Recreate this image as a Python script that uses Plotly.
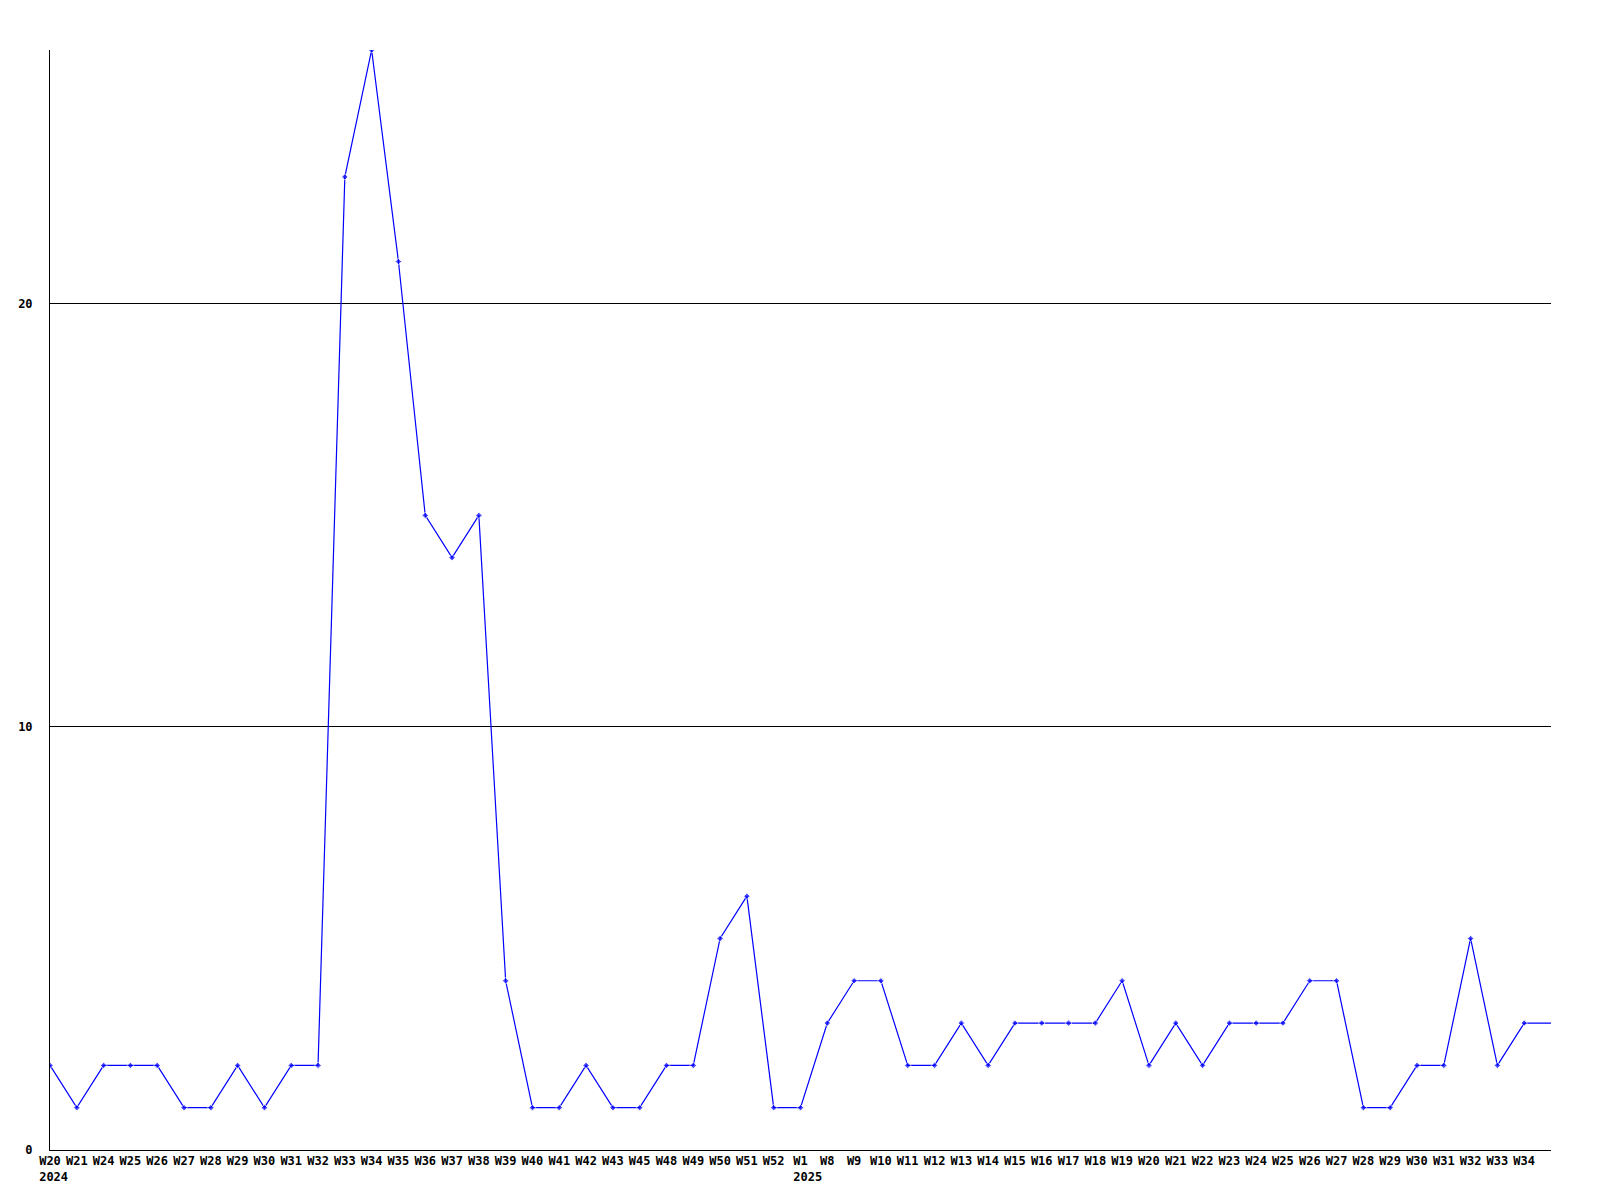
import plotly.graph_objects as go

week_labels = ["W20<br>&nbsp;2024", "W21", "W24", "W25", "W26", "W27", "W28", "W29", "W30", "W31",
               "W32", "W33", "W34", "W35", "W36", "W37", "W38", "W39", "W40", "W41",
               "W42", "W43", "W45", "W48", "W49", "W50", "W51", "W52", "W1<br>&nbsp;&nbsp;2025", "W8",
               "W9", "W10", "W11", "W12", "W13", "W14", "W15", "W16", "W17", "W18",
               "W19", "W20", "W21", "W22", "W23", "W24", "W25", "W26", "W27", "W28",
               "W29", "W30", "W31", "W32", "W33", "W34"]
values = [2, 1, 2, 2, 2, 1, 1, 2, 1, 2,
          2, 23, 26, 21, 15, 14, 15, 4, 1, 1,
          2, 1, 1, 2, 2, 5, 6, 1, 1, 3,
          4, 4, 2, 2, 3, 2, 3, 3, 3, 3,
          4, 2, 3, 2, 3, 3, 3, 4, 4, 1,
          1, 2, 2, 5, 2, 3]
trailing_value = 3  # continuation past the last labelled week (no marker)
y_ticks = [0, 10, 20]

x = list(range(len(values)))
x_all = x + [len(values)]
y_all = values + [trailing_value]
marker_sizes = [5] * len(values) + [0]

fig = go.Figure()
fig.add_trace(go.Scatter(
    x=x_all, y=y_all, mode="lines+markers",
    line=dict(color="#0000ff", width=1.2),
    marker=dict(color="#0000ff", size=marker_sizes, symbol="diamond"),
    hoverinfo="skip", showlegend=False,
))

font = dict(family="DejaVu Sans Mono", size=12, color="black", weight="bold")

fig.update_layout(
    width=1600, height=1200,
    margin=dict(l=42, r=57, t=42, b=58, autoexpand=False),
    paper_bgcolor="white", plot_bgcolor="white",
    font=font,
    xaxis=dict(
        range=[0, len(values)],
        tickvals=x, ticktext=week_labels,
        showgrid=False, zeroline=False, automargin=False,
        showline=True, linecolor="black", linewidth=1,
        ticks="", tickangle=0, tickfont=font,
    ),
    yaxis=dict(
        range=[0, max(values)],
        tickvals=y_ticks, ticktext=[str(v) for v in y_ticks],
        showgrid=True, gridcolor="black", gridwidth=1,
        zeroline=False, automargin=False,
        showline=True, linecolor="black", linewidth=1,
        ticks="", tickfont=font, ticklabelstandoff=14,
    ),
)

fig.write_html("out.html")
